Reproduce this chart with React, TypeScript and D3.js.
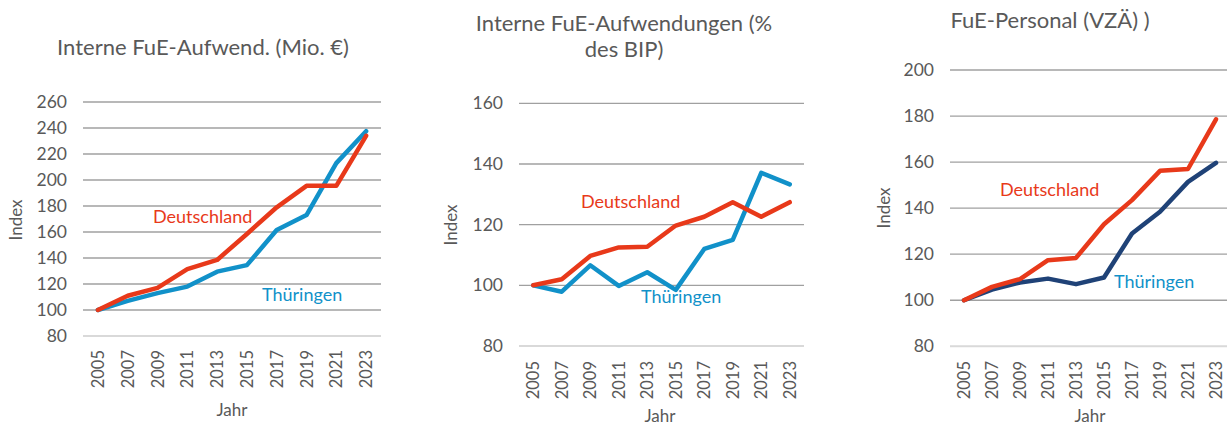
import React from 'react'
import * as d3 from 'd3'

const years = ['2005', '2007', '2009', '2011', '2013', '2015', '2017', '2019', '2021', '2023']

// Interne FuE-Aufwendungen (Mio. €), Index 2005 = 100
const aufwDE = [100, 111, 117, 131.5, 138.5, 158.5, 179, 195.5, 195.5, 234]
const aufwTH = [100, 107, 113, 118, 129.5, 134.5, 161.5, 173, 213, 237.5]

// Interne FuE-Aufwendungen (% des BIP)
const bipDE = [100, 102, 109.7, 112.5, 112.7, 119.7, 122.6, 127.4, 122.6, 127.4]
const bipTH = [100, 97.9, 106.6, 99.8, 104.3, 98.5, 112, 115, 137.1, 133.3]

// FuE-Personal (VZÄ)
const persDE = [100, 105.8, 109.2, 117.4, 118.4, 133, 143.5, 156.2, 157, 178.6]
const persTH = [100, 104.6, 107.7, 109.4, 107, 109.9, 129, 138.4, 151.4, 159.7]

const ticksLeft = [80, 100, 120, 140, 160, 180, 200, 220, 240, 260]
const ticksMid = [80, 100, 120, 140, 160]
const ticksRight = [80, 100, 120, 140, 160, 180, 200]

const RED = '#e8391a'
const BLUE = '#1191c9'
const NAVY = '#1f4277'
const TXT = '#595959'
const FONT = 'Lato, "Open Sans", sans-serif'

type PanelProps = {
  title: string[]
  titleX: number
  titleY: number
  x0: number
  x1: number
  yTop: number
  yBottom: number
  ticks: number[]
  de: number[]
  th: number[]
  thColor: string
  deLabel: [number, number]
  thLabel: [number, number]
  indexPos: [number, number]
  yearTop: number
  jahrPos: [number, number]
}

const Panel = (p: PanelProps) => {
  const x = d3.scaleBand<string>().domain(years).range([p.x0, p.x1])
  const y = d3.scaleLinear()
    .domain([p.ticks[0], p.ticks[p.ticks.length - 1]])
    .range([p.yBottom, p.yTop])
  const cx = (i: number) => (x(years[i]) as number) + x.bandwidth() / 2
  const line = d3.line<number>().x((_, i) => cx(i)).y(d => y(d))

  return (
    <g fontFamily={FONT} fill={TXT}>
      {p.title.map((t, i) => (
        <text key={t} x={p.titleX} y={p.titleY + i * 26} textAnchor="middle" fontSize={22}>{t}</text>
      ))}
      {p.ticks.map((t, i) => (
        <g key={t}>
          <line
            x1={p.x0} x2={p.x1} y1={y(t)} y2={y(t)}
            stroke={i === 0 ? '#d9d9d9' : '#a0a0a0'}
            strokeWidth={i === 0 ? 2 : 1.3}
          />
          <text x={p.x0 - 16} y={y(t)} dy="0.35em" textAnchor="end" fontSize={17.5}>{t}</text>
        </g>
      ))}
      {years.map((yr, i) => (
        <text
          key={yr}
          transform={`translate(${cx(i) + 6},${p.yearTop}) rotate(-90)`}
          textAnchor="end" fontSize={16.5}
        >{yr}</text>
      ))}
      <text x={p.jahrPos[0]} y={p.jahrPos[1]} textAnchor="middle" fontSize={17}>Jahr</text>
      <text
        transform={`translate(${p.indexPos[0]},${p.indexPos[1]}) rotate(-90)`}
        textAnchor="middle" dy="0.35em" fontSize={17}
      >Index</text>
      <path d={line(p.th) ?? ''} fill="none" stroke={p.thColor} strokeWidth={4.5} strokeLinejoin="round" strokeLinecap="round" />
      <path d={line(p.de) ?? ''} fill="none" stroke={RED} strokeWidth={4.5} strokeLinejoin="round" strokeLinecap="round" />
      <text x={p.deLabel[0]} y={p.deLabel[1]} fill={RED} fontSize={18}>Deutschland</text>
      <text x={p.thLabel[0]} y={p.thLabel[1]} fill={BLUE} fontSize={18}>Thüringen</text>
    </g>
  )
}

export default function App() {
  return (
    <svg
      width={1227} height={427}
      style={{ position: 'absolute', left: 0, top: 0, background: '#fff' }}
    >
      <Panel
        title={['Interne FuE-Aufwend. (Mio. €)']} titleX={203} titleY={55}
        x0={83} x1={381} yTop={102} yBottom={336} ticks={ticksLeft}
        de={aufwDE} th={aufwTH} thColor={BLUE}
        deLabel={[153, 223]} thLabel={[262, 301]}
        indexPos={[16, 220]} yearTop={350} jahrPos={[232, 416]}
      />
      <Panel
        title={['Interne FuE-Aufwendungen (%', 'des BIP)']} titleX={624} titleY={31}
        x0={519} x1={804} yTop={103.3} yBottom={346} ticks={ticksMid}
        de={bipDE} th={bipTH} thColor={BLUE}
        deLabel={[581, 208]} thLabel={[641, 303]}
        indexPos={[451, 225]} yearTop={361} jahrPos={[660, 422]}
      />
      <Panel
        title={['FuE-Personal (VZÄ) )']} titleX={1050} titleY={28}
        x0={950} x1={1230} yTop={70} yBottom={346.3} ticks={ticksRight}
        de={persDE} th={persTH} thColor={NAVY}
        deLabel={[1000, 196]} thLabel={[1114, 288]}
        indexPos={[884, 208]} yearTop={361} jahrPos={[1090, 422]}
      />
    </svg>
  )
}
